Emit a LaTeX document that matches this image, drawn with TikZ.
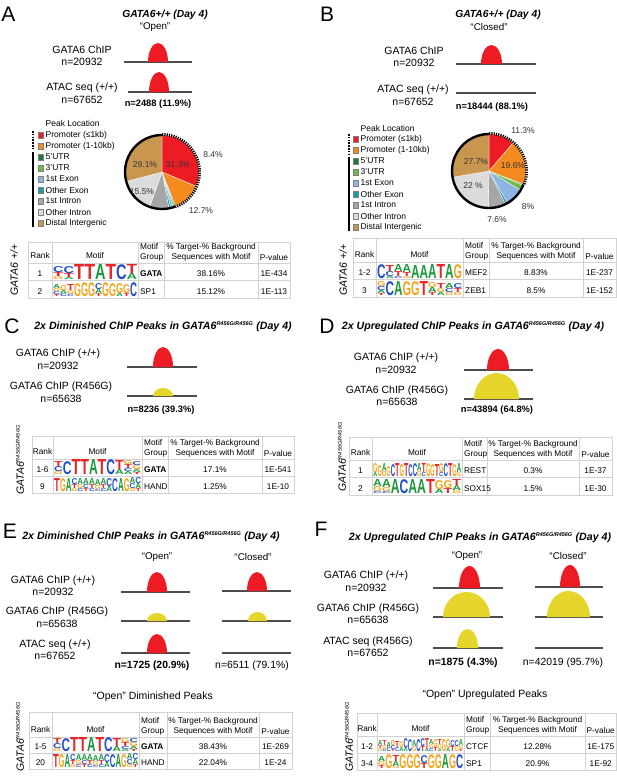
\documentclass[tikz,border=0pt]{standalone}
\usepackage{fontspec}
\setmainfont{Liberation Sans}
\usepackage{graphicx}
\definecolor{pkred}{HTML}{ED1C24}
\definecolor{pkyel}{HTML}{E6D52B}
\definecolor{lnc}{HTML}{4D4D4D}
\definecolor{gridc}{HTML}{D2D2D2}
\definecolor{cred}{HTML}{ED1C24}
\definecolor{corg}{HTML}{F58A1F}
\definecolor{c5u}{HTML}{1B7A3E}
\definecolor{c3u}{HTML}{6CBD45}
\definecolor{cex1}{HTML}{8EB4E3}
\definecolor{cex2}{HTML}{1A9BA8}
\definecolor{cin1}{HTML}{A6A6A6}
\definecolor{cin2}{HTML}{DCDCDC}
\definecolor{cdis}{HTML}{C8964F}
\definecolor{lgA}{HTML}{1A9A3C}
\definecolor{lgC}{HTML}{2350C8}
\definecolor{lgG}{HTML}{F2A51D}
\definecolor{lgT}{HTML}{E8262A}
\newlength\lw
\newcommand{\lgL}[2]{\hbox{\resizebox*{\lw}{#2pt}{\textcolor{lg#1}{\bfseries #1}}}}
\newcommand{\lgS}[1]{\vbox{\offinterlineskip#1}}
\newcommand{\mutsup}{\textsuperscript{\fontsize{5.5}{5.5}\selectfont R456G/R456G}}
\tikzset{
 lbl/.style={font=\fontsize{10.5}{12.5}\selectfont,align=center,inner sep=0},
 ttl/.style={font=\fontsize{10.3}{12}\selectfont\bfseries\itshape,inner sep=0},
 ttlb/.style={font=\fontsize{10.6}{12}\selectfont\bfseries\itshape,inner sep=0},
 qt/.style={font=\fontsize{9.8}{11}\selectfont,inner sep=0},
 cnt/.style={font=\fontsize{9.3}{11}\selectfont\bfseries,inner sep=0},
 cntb/.style={font=\fontsize{10.4}{12}\selectfont\bfseries,inner sep=0},
 cntr/.style={font=\fontsize{10.4}{12}\selectfont,inner sep=0},
 plet/.style={font=\fontsize{21}{24}\selectfont,inner sep=0},
 tb/.style={font=\fontsize{8.3}{10.5}\selectfont,inner sep=0},
 leg/.style={font=\fontsize{8.5}{10}\selectfont,anchor=west,inner sep=0},
 pct/.style={font=\fontsize{8.5}{10}\selectfont,text=black!80,inner sep=0},
 bl/.style={draw=lnc,line width=1.1},
 gridl/.style={draw=gridc,line width=0.6},
 vlab/.style={font=\fontsize{10.5}{12}\selectfont\itshape,rotate=90,inner sep=0},
 slc/.style={draw=white,line width=0.3},
}
\newcommand{\peak}[5]{\fill[#5] (#1,-#3) arc[start angle=180,end angle=0,x radius={(#2-#1)/2},y radius={#3-#4}] -- cycle;}
\newcommand{\bline}[3]{\draw[bl] (#1,-#3) -- (#2,-#3);}
\newcommand{\slice}[4]{\fill[#4,slc] (#1) -- ++(#2:37) arc[start angle=#2,end angle=#3,radius=37] -- cycle;}
\newcommand{\legitem}[4]{\fill[#3,draw=black!50,line width=0.3] (#1,{-(#2+2.8)}) rectangle ({#1+5.6},{-(#2-2.8)}); \node[leg] at ({#1+7.5},-#2) {#4};}
\newcommand{\settable}[9]{\def\tL{#1}\def\tA{#2}\def\tB{#3}\def\tC{#4}\def\tD{#5}\def\tR{#6}\def\tT{#7}\def\tH{#8}\def\tRH{#9}}
\newcommand{\tgrid}{%
 \draw[gridl] (\tL,-\tT) rectangle (\tR,{-(\tH+2*\tRH)});
 \draw[gridl] (\tL,-\tH) -- (\tR,-\tH);
 \draw[gridl] (\tL,{-(\tH+\tRH)}) -- (\tR,{-(\tH+\tRH)});
 \foreach \xx in {\tA,\tB,\tC,\tD} \draw[gridl] (\xx,-\tT) -- (\xx,{-(\tH+2*\tRH)});
 \node[tb] at ({(\tL+\tA)/2},{-(\tH-7)}) {Rank};
 \node[tb] at ({(\tA+\tB)/2},{-(\tH-7)}) {Motif};
 \node[tb,anchor=west,align=left] at ({\tB+2},{-(\tH-10.5)}) {Motif\\Group};
 \node[tb,align=center] at ({(\tC+\tD)/2},{-(\tH-10.5)}) {\% Target-\% Background\\Sequences with Motif};
 \node[tb] at ({(\tD+\tR)/2},{-(\tH-5)}) {P-value};
}
\newcommand{\trow}[7]{%
 \pgfmathsetmacro\rowb{\tH+#1*\tRH}
 \pgfmathsetlength{\lw}{(\tB-\tA-2)/#6}
 \node[tb] at ({(\tL+\tA)/2},{-(\rowb-6.5)}) {#2};
 \node[tb,anchor=west] at ({\tB+2},{-(\rowb-6.5)}) {#3};
 \node[tb] at ({(\tC+\tD)/2},{-(\rowb-6.5)}) {#4};
 \node[tb] at ({(\tD+\tR)/2},{-(\rowb-6.5)}) {#5};
 \node[anchor=south west,inner sep=0] at ({\tA+1},{-(\rowb-0.8)}) {#7};
}
\begin{document}
\begin{tikzpicture}[x=1pt,y=1pt]
\fill[white] (0,0) rectangle (617,-776);
\useasboundingbox (0,0) rectangle (617,-776);
% ================= Panel A
\node[plet] (Alet) at (8.5,-14) {A};
\node[ttl] (Attl) at (165,-15) {GATA6+/+ (Day 4)};
\node[qt] (Aq) at (155,-27) {“Open”};
\node[lbl] (Al1) at (82,-55.5) {GATA6 ChIP\\n=20932};
\node[lbl] (Al2) at (82,-93) {ATAC seq (+/+)\\n=67652};
\bline{124}{192}{62} \peak{148}{168}{62}{43}{pkred}
\bline{128}{192}{92} \peak{149}{169}{92}{72}{pkred}
\node[cnt] (Acnt) at (158,-104) {n=2488 (11.9\%)};
% legend A
\node[leg] (Aleg) at (45.5,-123) {Peak Location};
\draw[line width=2.6,dash pattern=on 1.6pt off 1.2pt] (33,-131) -- (33,-150);
\draw[line width=2.4] (33,-152) -- (33,-227);
\legitem{38}{135}{cred}{Promoter (≤1kb)}
\legitem{38}{146}{corg}{Promoter (1-10kb)}
\legitem{38}{157}{c5u}{5'UTR}
\legitem{38}{168}{c3u}{3'UTR}
\legitem{38}{179}{cex1}{1st Exon}
\legitem{38}{190}{cex2}{Other Exon}
\legitem{38}{201}{cin1}{1st Intron}
\legitem{38}{212}{cin2}{Other Intron}
\legitem{38}{223}{cdis}{Distal Intergenic}
% pie A
\coordinate (pA) at (162,-172);
\slice{pA}{90}{-22.68}{cred}
\slice{pA}{-22.68}{-68.4}{corg}
\slice{pA}{-68.4}{-70.2}{c5u}
\slice{pA}{-70.2}{-72.72}{c3u}
\slice{pA}{-72.72}{-76.32}{cex1}
\slice{pA}{-76.32}{-79.2}{cex2}
\slice{pA}{-79.2}{-109.44}{cin1}
\slice{pA}{-109.44}{-165.24}{cin2}
\slice{pA}{-165.24}{-270}{cdis}
\draw[line width=2.4] (pA) ++(-68.4:37) arc[start angle=-68.4,end angle=-270,radius=37];
\draw[line width=2.8,dash pattern=on 1.2pt off 1.1pt] (pA) ++(90:37.6) arc[start angle=90,end angle=-68.4,radius=37.6];
\node[pct] (Ap1) at (145,-165) {29.1\%};
\node[pct] (Ap2) at (178,-165) {31.3\%};
\node[pct] (Ap3) at (142,-192) {15.5\%};
\node[pct] (Ap4) at (213,-155) {8.4\%};
\node[pct] (Ap5) at (201,-211) {12.7\%};
% table A
\settable{28}{52}{138}{164}{258}{290}{242}{263}{17.5}
\tgrid
\trow{1}{1}{\bfseries GATA}{38.16\%}{1E-434}{8}{\lgS{\lgL{C}{6}\lgL{T}{4}\lgL{G}{3}}\lgS{\lgL{C}{7}\lgL{T}{4}\lgL{A}{2}}\lgL{T}{15}\lgL{T}{15}\lgL{A}{15}\lgL{T}{15}\lgL{C}{15}\lgS{\lgL{T}{9}\lgL{A}{6}}}
\trow{2}{2}{SP1}{15.12\%}{1E-113}{12}{\lgS{\lgL{A}{4}\lgL{G}{3}\lgL{C}{3}\lgL{T}{2}}\lgS{\lgL{G}{5}\lgL{A}{3}\lgL{C}{3}}\lgS{\lgL{T}{6}\lgL{G}{4}\lgL{C}{2}}\lgL{G}{13}\lgL{G}{14}\lgL{G}{14}\lgS{\lgL{C}{6}\lgL{A}{4}\lgL{T}{3}}\lgL{G}{14}\lgL{G}{13}\lgS{\lgL{G}{10}\lgL{A}{3}}\lgS{\lgL{G}{9}\lgL{T}{3}}\lgL{C}{14}}
\node[vlab] (Av) at (14,-270) {GATA6 +/+};
% ================= Panel B
\node[plet] (Blet) at (327,-14) {B};
\node[ttl] (Bttl) at (498,-15) {GATA6+/+ (Day 4)};
\node[qt] (Bq) at (489,-27) {“Closed”};
\node[lbl] (Bl1) at (414,-56.5) {GATA6 ChIP\\n=20932};
\node[lbl] (Bl2) at (413,-95) {ATAC seq (+/+)\\n=67652};
\bline{456}{536}{64} \peak{481}{502}{64}{45}{pkred}
\bline{456}{536}{93}
\node[cnt] (Bcnt) at (492,-107) {n=18444 (88.1\%)};
\node[leg] (Bleg) at (360.5,-128) {Peak Location};
\draw[line width=2.6,dash pattern=on 1.6pt off 1.2pt] (349,-134) -- (349,-155);
\draw[line width=2.4] (349,-157) -- (349,-231);
\legitem{353}{139}{cred}{Promoter (≤1kb)}
\legitem{353}{150}{corg}{Promoter (1-10kb)}
\legitem{353}{161}{c5u}{5'UTR}
\legitem{353}{172}{c3u}{3'UTR}
\legitem{353}{183}{cex1}{1st Exon}
\legitem{353}{194}{cex2}{Other Exon}
\legitem{353}{205}{cin1}{1st Intron}
\legitem{353}{216}{cin2}{Other Intron}
\legitem{353}{227}{cdis}{Distal Intergenic}
\coordinate (pB) at (489,-171);
\slice{pB}{90}{49.32}{cred}
\slice{pB}{49.32}{-21.24}{corg}
\slice{pB}{-21.24}{-23.04}{c5u}
\slice{pB}{-23.04}{-31.32}{c3u}
\slice{pB}{-31.32}{-60.12}{cex1}
\slice{pB}{-60.12}{-63.72}{cex2}
\slice{pB}{-63.72}{-91.08}{cin1}
\slice{pB}{-91.08}{-170.28}{cin2}
\slice{pB}{-170.28}{-270}{cdis}
\draw[line width=2.4] (pB) ++(-21.24:37) arc[start angle=-21.24,end angle=-270,radius=37];
\draw[line width=2.8,dash pattern=on 1.2pt off 1.1pt] (pB) ++(90:37.6) arc[start angle=90,end angle=-21.24,radius=37.6];
\node[pct] (Bp1) at (523,-131) {11.3\%};
\node[pct] (Bp2) at (513,-166) {19.6\%};
\node[pct] (Bp3) at (476,-162) {27.7\%};
\node[pct] (Bp4) at (473,-186) {22 \%};
\node[pct] (Bp5) at (528,-207) {8\%};
\node[pct] (Bp6) at (497,-220) {7.6\%};
\settable{353}{376}{463}{489}{583}{616}{238}{262}{17.5}
\tgrid
\trow{1}{1-2}{MEF2}{8.83\%}{1E-237}{10}{\lgL{C}{14}\lgS{\lgL{T}{6}\lgL{C}{5}\lgL{A}{2}}\lgS{\lgL{A}{7}\lgL{T}{5}\lgL{C}{2}}\lgS{\lgL{A}{8}\lgL{T}{4}\lgL{G}{2}}\lgL{A}{13}\lgL{A}{13}\lgL{A}{14}\lgL{T}{14}\lgL{A}{14}\lgL{G}{14}}
\trow{2}{3}{ZEB1}{8.5\%}{1E-152}{10}{\lgS{\lgL{G}{5}\lgL{C}{4}\lgL{A}{3}\lgL{T}{2}}\lgL{C}{14}\lgL{A}{14}\lgL{G}{14}\lgL{G}{14}\lgL{T}{14}\lgS{\lgL{G}{5}\lgL{A}{5}\lgL{T}{3}}\lgS{\lgL{T}{5}\lgL{G}{4}\lgL{A}{3}}\lgS{\lgL{A}{5}\lgL{C}{4}\lgL{G}{3}}\lgS{\lgL{C}{5}\lgL{T}{4}\lgL{G}{3}}}
\node[vlab] (Bv) at (343,-270) {GATA6 +/+};
% ================= Panel C
\node[plet] (Clet) at (12,-326) {C};
\node[ttlb] (Cttl) at (163,-327) {2x Diminished ChIP Peaks in GATA6\mutsup{} (Day 4)};
\node[lbl] (Cl1) at (58,-359) {GATA6 ChIP (+/+)\\n=20932};
\node[lbl] (Cl2) at (61,-392) {GATA6 ChIP (R456G)\\n=65638};
\bline{127}{197}{367} \peak{153}{173}{367}{347}{pkred}
\bline{127}{197}{396} \peak{153}{173}{396}{388}{pkyel}
\node[cnt] (Ccnt) at (161,-410) {n=8236 (39.3\%)};
\settable{32}{53}{142}{168}{262}{294}{436}{459}{17}
\tgrid
\trow{1}{1-6}{\bfseries GATA}{17.1\%}{1E-541}{10}{\lgS{\lgL{T}{5}\lgL{C}{5}\lgL{G}{3}}\lgL{C}{13}\lgL{T}{15}\lgL{T}{15}\lgL{A}{15}\lgL{T}{15}\lgL{C}{15}\lgS{\lgL{T}{9}\lgL{A}{5}}\lgS{\lgL{G}{4}\lgL{T}{4}\lgL{C}{3}\lgL{A}{3}}\lgS{\lgL{C}{4}\lgL{G}{4}\lgL{A}{3}\lgL{T}{2}}}
\trow{2}{9}{HAND}{1.25\%}{1E-10}{15}{\lgL{T}{13}\lgL{G}{13}\lgL{A}{13}\lgS{\lgL{C}{6}\lgL{T}{4}\lgL{G}{3}}\lgS{\lgL{A}{6}\lgL{G}{4}\lgL{C}{3}}\lgS{\lgL{A}{6}\lgL{C}{4}\lgL{T}{3}}\lgS{\lgL{A}{6}\lgL{T}{4}\lgL{C}{3}}\lgS{\lgL{A}{6}\lgL{G}{4}\lgL{C}{2}}\lgS{\lgL{A}{6}\lgL{T}{4}\lgL{C}{3}}\lgS{\lgL{C}{8}\lgL{A}{5}}\lgL{C}{13}\lgL{A}{13}\lgL{G}{13}\lgS{\lgL{A}{6}\lgL{C}{5}\lgL{G}{3}}\lgS{\lgL{C}{6}\lgL{A}{5}\lgL{T}{3}}}
\node[vlab] (Cv) at (20,-460) {GATA6\mutsup};
% ================= Panel D
\node[plet] (Dlet) at (327,-326) {D};
\node[ttlb] (Dttl) at (473,-327) {2x Upregulated ChIP Peaks in GATA6\mutsup{} (Day 4)};
\node[lbl] (Dl1) at (396,-363) {GATA6 ChIP (+/+)\\n=20932};
\node[lbl] (Dl2) at (397,-395.5) {GATA6 ChIP (R456G)\\n=65638};
\bline{464}{533}{370} \peak{487}{509}{370}{349}{pkred}
\bline{464}{533}{399} \peak{474}{519}{399}{373}{pkyel}
\node[cnt] (Dcnt) at (497,-410) {n=43894 (64.8\%)};
\settable{349}{372}{462}{487}{579}{612}{437}{460}{17.5}
\tgrid
\trow{1}{1}{REST}{0.3\%}{1E-37}{20}{\lgS{\lgL{G}{9}\lgL{A}{4}}\lgL{G}{11}\lgS{\lgL{A}{8}\lgL{G}{5}}\lgL{G}{10}\lgL{C}{12}\lgL{T}{13}\lgL{G}{12}\lgL{T}{13}\lgL{C}{12}\lgL{C}{13}\lgS{\lgL{A}{8}\lgL{G}{5}}\lgS{\lgL{T}{9}\lgL{C}{4}}\lgL{G}{13}\lgL{G}{12}\lgL{T}{12}\lgS{\lgL{G}{9}\lgL{C}{4}}\lgL{C}{13}\lgL{T}{13}\lgL{G}{12}\lgS{\lgL{A}{9}\lgL{G}{4}}}
\trow{2}{2}{SOX15}{1.5\%}{1E-30}{10}{\lgS{\lgL{A}{7}\lgL{G}{5}\lgL{C}{2}}\lgS{\lgL{A}{8}\lgL{G}{4}\lgL{C}{2}}\lgL{A}{14}\lgL{C}{14}\lgL{A}{14}\lgL{A}{14}\lgL{T}{14}\lgS{\lgL{G}{9}\lgL{A}{4}}\lgS{\lgL{G}{8}\lgL{T}{5}}\lgS{\lgL{T}{6}\lgL{A}{5}\lgL{G}{3}}}
\node[vlab] (Dv) at (342,-457) {GATA6\mutsup};
% ================= Panel E
\node[plet] (Elet) at (10,-531) {E};
\node[ttlb] (Ettl) at (151,-537) {2x Diminished ChIP Peaks in GATA6\mutsup{} (Day 4)};
\node[qt] (Eq1) at (157,-557) {“Open”};
\node[qt] (Eq2) at (253,-557) {“Closed”};
\node[lbl] (El1) at (53,-585.5) {GATA6 ChIP (+/+)\\n=20932};
\node[lbl] (El2) at (57,-617) {GATA6 ChIP (R456G)\\n=65638};
\node[lbl] (El3) at (55,-649.5) {ATAC seq (+/+)\\n=67652};
\bline{121}{190}{592} \peak{147}{167}{592}{572}{pkred}
\bline{222}{291}{591} \peak{247}{267}{591}{572}{pkred}
\bline{121}{190}{621} \peak{147}{167}{621}{613}{pkyel}
\bline{222}{291}{621} \peak{248}{267}{621}{612}{pkyel}
\bline{121}{190}{653} \peak{147}{167}{653}{634}{pkred}
\bline{222}{291}{653}
\node[cntb] (Ecnt1) at (152,-666) {n=1725 (20.9\%)};
\node[cntr] (Ecnt2) at (252,-666) {n=6511 (79.1\%)};
\node[lbl] (Esub) at (153,-697) {“Open” Diminished Peaks};
\settable{29}{52}{139}{167}{259}{292}{712}{737}{16}
\tgrid
\trow{1}{1-5}{\bfseries GATA}{38.43\%}{1E-269}{10}{\lgS{\lgL{T}{5}\lgL{C}{5}\lgL{G}{3}}\lgL{C}{13}\lgL{T}{14}\lgL{T}{14}\lgL{A}{14}\lgL{T}{14}\lgL{C}{14}\lgS{\lgL{T}{8}\lgL{A}{5}}\lgS{\lgL{G}{4}\lgL{T}{4}\lgL{C}{3}\lgL{A}{2}}\lgS{\lgL{C}{4}\lgL{G}{4}\lgL{A}{3}\lgL{T}{2}}}
\trow{2}{20}{HAND}{22.04\%}{1E-24}{15}{\lgL{T}{13}\lgL{G}{13}\lgL{A}{13}\lgS{\lgL{C}{6}\lgL{T}{4}\lgL{G}{3}}\lgS{\lgL{A}{6}\lgL{G}{4}\lgL{C}{3}}\lgS{\lgL{A}{6}\lgL{C}{4}\lgL{T}{3}}\lgS{\lgL{A}{6}\lgL{T}{4}\lgL{C}{3}}\lgS{\lgL{A}{6}\lgL{G}{4}\lgL{C}{2}}\lgS{\lgL{A}{6}\lgL{T}{4}\lgL{C}{3}}\lgS{\lgL{C}{8}\lgL{A}{5}}\lgL{C}{13}\lgL{A}{13}\lgL{G}{13}\lgS{\lgL{A}{6}\lgL{C}{5}\lgL{G}{3}}\lgS{\lgL{C}{6}\lgL{A}{5}\lgL{T}{3}}}
\node[vlab] (Ev) at (20,-737) {GATA6\mutsup};
% ================= Panel F
\node[plet] (Flet) at (321,-529) {F};
\node[ttlb] (Fttl) at (480,-538) {2x Upregulated ChIP Peaks in GATA6\mutsup{} (Day 4)};
\node[qt] (Fq1) at (467,-556) {“Open”};
\node[qt] (Fq2) at (568,-556) {“Closed”};
\node[lbl] (Fl1) at (366,-581) {GATA6 ChIP (+/+)\\n=20932};
\node[lbl] (Fl2) at (368,-613.5) {GATA6 ChIP (R456G)\\n=65638};
\node[lbl] (Fl3) at (368,-646.5) {ATAC seq (R456G)\\n=67652};
\bline{433}{503}{588} \peak{459}{480}{588}{566}{pkred}
\bline{535}{603}{587} \peak{560}{580}{587}{565}{pkred}
\bline{433}{503}{617} \peak{443}{490}{617}{592}{pkyel}
\bline{535}{603}{617} \peak{547}{590}{617}{591}{pkyel}
\bline{433}{503}{648} \peak{457}{478}{648}{629}{pkyel}
\bline{535}{603}{648}
\node[cntb] (Fcnt1) at (463,-663) {n=1875 (4.3\%)};
\node[cntr] (Fcnt2) at (563,-663) {n=42019 (95.7\%)};
\node[lbl] (Fsub) at (485,-695) {“Open” Upregulated Peaks};
\settable{357}{377}{464}{490}{585}{616.5}{713}{736}{17}
\tgrid
\trow{1}{1-2}{CTCF}{12.28\%}{1E-175}{20}{\lgS{\lgL{A}{5}\lgL{T}{3}\lgL{G}{3}}\lgS{\lgL{T}{5}\lgL{G}{4}\lgL{C}{2}}\lgS{\lgL{A}{5}\lgL{C}{4}}\lgS{\lgL{G}{5}\lgL{C}{4}\lgL{T}{2}}\lgS{\lgL{T}{6}\lgL{C}{4}}\lgS{\lgL{G}{6}\lgL{A}{4}}\lgS{\lgL{C}{10}\lgL{A}{3}}\lgL{C}{12}\lgS{\lgL{A}{6}\lgL{G}{5}}\lgL{C}{12}\lgS{\lgL{C}{8}\lgL{T}{5}}\lgS{\lgL{T}{10}\lgL{A}{3}}\lgS{\lgL{A}{5}\lgL{G}{4}\lgL{C}{3}}\lgS{\lgL{G}{8}\lgL{T}{4}}\lgS{\lgL{T}{5}\lgL{G}{5}\lgL{A}{2}}\lgL{G}{12}\lgS{\lgL{G}{9}\lgL{A}{3}}\lgS{\lgL{C}{6}\lgL{T}{5}}\lgS{\lgL{C}{6}\lgL{G}{5}}\lgS{\lgL{A}{6}\lgL{G}{4}\lgL{T}{2}}}
\trow{2}{3-4}{SP1}{20.9\%}{1E-92}{12}{\lgS{\lgL{A}{5}\lgL{G}{4}\lgL{T}{3}}\lgL{G}{14}\lgS{\lgL{T}{6}\lgL{A}{5}\lgL{G}{2}}\lgL{G}{14}\lgL{G}{14}\lgL{G}{14}\lgS{\lgL{C}{8}\lgL{T}{5}}\lgL{G}{14}\lgL{G}{14}\lgL{A}{14}\lgL{G}{14}\lgL{C}{14}}
\node[vlab] (Fv) at (349,-737) {GATA6\mutsup};
\end{tikzpicture}
\end{document}
